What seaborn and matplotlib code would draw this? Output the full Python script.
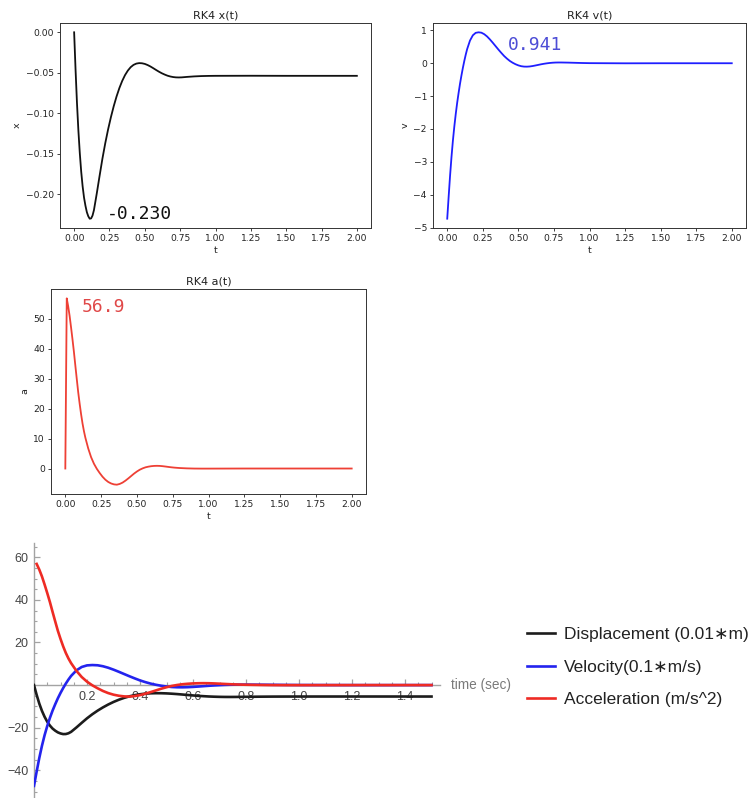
import numpy as np
import pandas as pd
import matplotlib
matplotlib.use("Agg")
import matplotlib.pyplot as plt
import matplotlib.transforms as mtransforms
from matplotlib.ticker import FixedLocator
import seaborn as sns

# RK4 solution of the damped drop: time (s), displacement (m), velocity (m/s), acceleration (m/s^2)
time_s = [0.00, 0.01, 0.02, 0.03, 0.04, 0.05, 0.06, 0.07, 0.08, 0.09,
          0.10, 0.11, 0.12, 0.13, 0.14, 0.16, 0.18, 0.20, 0.22, 0.24,
          0.26, 0.28, 0.30, 0.32, 0.34, 0.36, 0.38, 0.40, 0.42, 0.44,
          0.46, 0.48, 0.50, 0.52, 0.54, 0.56, 0.58, 0.60, 0.62, 0.64,
          0.66, 0.68, 0.70, 0.72, 0.74, 0.76, 0.78, 0.80, 0.85, 0.90,
          0.95, 1.00, 1.25, 1.50, 1.75, 2.00]

disp_m = [0.0, -0.046, -0.087, -0.121, -0.149, -0.172, -0.190, -0.204, -0.214, -0.222,
          -0.227, -0.230, -0.2297, -0.2262, -0.2195, -0.1990, -0.1772, -0.1560, -0.1370, -0.1200,
          -0.1048, -0.0912, -0.0792, -0.0688, -0.0600, -0.0528, -0.0472, -0.0430, -0.0402, -0.0386,
          -0.0380, -0.0382, -0.0390, -0.0404, -0.0422, -0.0443, -0.0465, -0.0486, -0.0505, -0.0521,
          -0.0535, -0.0545, -0.0552, -0.0556, -0.0557, -0.0556, -0.0553, -0.0550, -0.0544, -0.0540,
          -0.0538, -0.0537, -0.0536, -0.0537, -0.0537, -0.0537]

vel_ms = [-4.73, -4.06, -3.42, -2.85, -2.35, -1.92, -1.54, -1.20, -0.90, -0.62,
          -0.37, -0.14, 0.07, 0.26, 0.43, 0.69, 0.85, 0.925, 0.941, 0.930,
          0.885, 0.815, 0.725, 0.625, 0.52, 0.415, 0.315, 0.22, 0.14, 0.07,
          0.015, -0.03, -0.065, -0.09, -0.102, -0.104, -0.098, -0.085, -0.068, -0.050,
          -0.032, -0.016, -0.003, 0.008, 0.016, 0.021, 0.023, 0.023, 0.019, 0.013,
          0.007, 0.003, -0.002, 0.0, 0.0, 0.0]

acc_ms2 = [0.0, 56.87, 54.2, 51.0, 47.2, 43.2, 39.0, 34.4, 29.9, 25.5,
           21.7, 18.2, 15.1, 12.5, 10.3, 6.7, 3.8, 1.6, -0.1, -1.5,
           -2.75, -3.75, -4.5, -5.0, -5.3, -5.4, -5.15, -4.7, -4.05, -3.3,
           -2.5, -1.7, -1.0, -0.4, 0.05, 0.4, 0.62, 0.78, 0.87, 0.9,
           0.87, 0.78, 0.66, 0.53, 0.41, 0.31, 0.23, 0.16, 0.05, -0.01,
           -0.03, -0.03, 0.0, 0.0, 0.0, 0.0]

legend_labels = ["Displacement (0.01\u2217m)", "Velocity(0.1\u2217m/s)", "Acceleration (m/s^2)"]
scale_factors = [100, 10, 1]

df = pd.DataFrame({"t": time_s, "x": disp_m, "v": vel_ms, "a": acc_ms2})

W, H = 750, 798
fig = plt.figure(figsize=(W / 100, H / 100), dpi=100)


def box(left, top, right, bottom):
    return [left / W, 1 - bottom / H, (right - left) / W, (bottom - top) / H]


ax_x = fig.add_axes(box(60, 23, 371, 228))
ax_v = fig.add_axes(box(433, 23, 746, 228))
ax_a = fig.add_axes(box(51, 289, 366, 494))
ax_m = fig.add_axes(box(34, 543, 440, 798))

mono = "DejaVu Sans Mono"


def style_rk4(ax, title, ylab):
    ax.set_title(title, fontsize=8, pad=3.5, color="#222")
    ax.set_xlabel("t", fontsize=6.8, labelpad=2, color="#222")
    ax.set_ylabel(ylab, fontsize=6.8, labelpad=3, color="#222")
    ax.tick_params(labelsize=6.6, length=2.4, width=0.6, pad=2, colors="#222")
    ax.set_xticks(np.arange(0, 2.01, 0.25))
    for s in ax.spines.values():
        s.set_linewidth(0.7)
        s.set_color("#333")


# Displacement
sns.lineplot(data=df, x="t", y="x", ax=ax_x, color="#111111", lw=1.3, estimator=None)
style_rk4(ax_x, "RK4 x(t)", "x")
i_min = int(np.argmin(disp_m))
ax_x.text(time_s[i_min] + 0.12, disp_m[i_min], f"{disp_m[i_min]:.3f}",
          family=mono, fontsize=13, color="#111111")

# Velocity
sns.lineplot(data=df, x="t", y="v", ax=ax_v, color="#1f1fff", lw=1.3, estimator=None)
style_rk4(ax_v, "RK4 v(t)", "v")
i_vmax = int(np.argmax(vel_ms))
ax_v.text(time_s[i_vmax] + 0.207, vel_ms[i_vmax] - 0.536, f"{vel_ms[i_vmax]:.3f}",
          family=mono, fontsize=13, color="#4d4dd6")

# Acceleration
sns.lineplot(data=df, x="t", y="a", ax=ax_a, color="#ee4035", lw=1.3, estimator=None)
style_rk4(ax_a, "RK4 a(t)", "a")
i_amax = int(np.argmax(acc_ms2))
ax_a.text(time_s[i_amax] + 0.107, acc_ms2[i_amax] - 4.7, f"{acc_ms2[i_amax]:.1f}",
          family=mono, fontsize=13, color="#e04848")

# Combined plot of the three scaled series
combo_colors = ["#1c1c1c", "#2323ee", "#ee2b24"]
sub = df[df["t"] <= 1.5]
series = [sub["x"] * scale_factors[0], sub["v"] * scale_factors[1], sub["a"] * scale_factors[2]]
for k, (vals, lab, col) in enumerate(zip(series, legend_labels, combo_colors)):
    part = pd.DataFrame({"t": sub["t"], "val": vals})
    if k == 2:
        part = part[part["t"] > 0]
    sns.lineplot(data=part, x="t", y="val", ax=ax_m, color=col, lw=1.9,
                 label=lab, estimator=None, zorder=3 + k)

ax_m.set_xlim(0, 1.532)
ax_m.set_ylim(-53, 66.7)
ax_m.set_xlabel("")
ax_m.set_ylabel("")
ax_m.spines["top"].set_visible(False)
ax_m.spines["right"].set_visible(False)
ax_m.spines["bottom"].set_position(("data", 0))
for s in ("left", "bottom"):
    ax_m.spines[s].set_color("#a3a3a3")
    ax_m.spines[s].set_linewidth(1.0)
    ax_m.spines[s].set_zorder(1)

x_major = [0.2, 0.4, 0.6, 0.8, 1.0, 1.2, 1.4]
y_major = [-40, -20, 20, 40, 60]
ax_m.xaxis.set_major_locator(FixedLocator(x_major))
ax_m.xaxis.set_minor_locator(FixedLocator([m for m in np.round(np.arange(0.05, 1.51, 0.05), 2)
                                           if m not in x_major]))
ax_m.yaxis.set_major_locator(FixedLocator(y_major))
ax_m.yaxis.set_minor_locator(FixedLocator([m for m in range(-50, 66, 5)
                                           if m not in y_major and m != 0]))
ax_m.tick_params(which="major", direction="in", length=4, width=0.9, color="#a3a3a3",
                 labelsize=9, labelcolor="#444444", pad=4)
ax_m.tick_params(which="minor", direction="in", length=2.3, width=0.8, color="#a3a3a3")
for lbl in ax_m.get_xticklabels() + ax_m.get_yticklabels():
    lbl.set_family(["Liberation Sans", "DejaVu Sans"])

blend = mtransforms.blended_transform_factory(ax_m.transAxes, ax_m.transData)
ax_m.text(1.0 + 11 / 406, 0, "time (sec)", transform=blend, va="center", ha="left",
          fontsize=9.8, color="#7a7a7a", family=["Liberation Sans", "DejaVu Sans"],
          clip_on=False)

handles, labels = ax_m.get_legend_handles_labels()
ax_m.legend(handles, labels, loc="upper left", bbox_to_anchor=(527 / W, 1 - 627 / H),
            bbox_transform=fig.transFigure, frameon=False, borderpad=0, borderaxespad=0,
            handlelength=1.6, handletextpad=0.55, labelspacing=1.0,
            prop={"family": ["Liberation Sans", "DejaVu Sans"], "size": 12.5},
            labelcolor="#222222")

fig.savefig("out.png", dpi=100)
